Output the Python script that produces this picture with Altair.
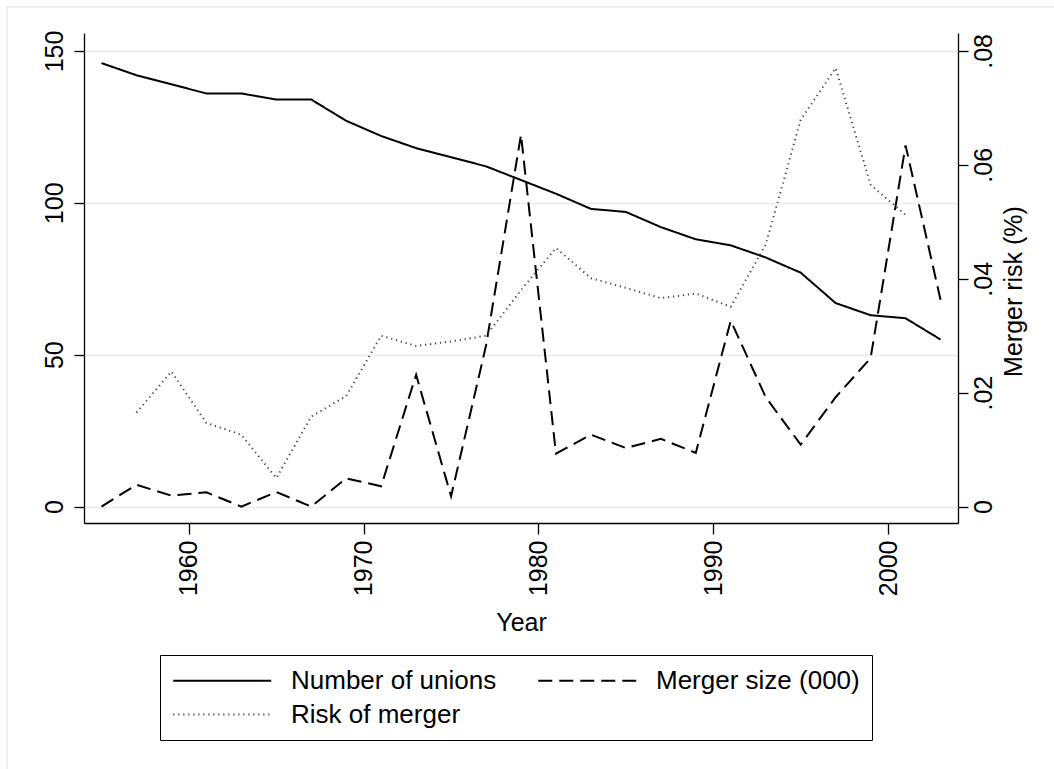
import altair as alt
import pandas as pd

# Union counts and mergers, odd years 1955-2003
years = list(range(1955, 2004, 2))
unions = [146, 142, 139, 136, 136, 134, 134, 127, 122, 118, 115, 112, 107.5,
          103, 98, 97, 92, 88, 86, 82, 77, 67, 63, 62, 55]
merger_size = [0, 7.2, 3.6, 4.7, 0, 4.8, 0, 9.3, 6.7, 43.4, 3.4, 53, 122.4,
               17.4, 23.7, 19.3, 22.3, 17.7, 61.2, 36, 20.4, 36, 48.9, 118.9, 68.1]

# Merger risk is only observed 1957-2001
risk_years = list(range(1957, 2002, 2))
merger_risk = [.0165, .0237, .0147, .0126, .005, .0158, .0194, .030, .0282,
               .029, .030, .038, .0454, .0401, .0384, .0366, .0374, .0351,
               .046, .0679, .077, .0565, .0512]

series_names = ["Number of unions", "Merger size (000)", "Risk of merger"]
series_color = ["black", "black", "#444444"]
series_dash = [[1, 0], [14, 7], [1.2, 3.8]]
series_width = [2, 2, 1.3]

FONT = "Liberation Sans, Arial, Helvetica, sans-serif"
GRID = "#e4eef1"

lines_df = pd.DataFrame({
    "year": years * 2,
    "series": [series_names[0]] * len(years) + [series_names[1]] * len(years),
    "value": unions + merger_size,
})
risk_df = pd.DataFrame({
    "year": risk_years,
    "series": [series_names[2]] * len(risk_years),
    "risk": merger_risk,
})

# long horizontal line sample; the path is scaled by sqrt(symbolSize)/2
legend = alt.Legend(
    title=None, orient="none", legendX=76, legendY=622, columns=2,
    direction="horizontal",
    symbolType="M-1,0H7", symbolSize=600,
    labelFont=FONT, labelFontSize=26, labelColor="black", labelOffset=92,
    labelLimit=600, columnPadding=37, rowPadding=7, padding=12,
    strokeColor="black",
)

style = dict(
    color=alt.Color("series:N", scale=alt.Scale(domain=series_names, range=series_color), legend=legend),
    strokeDash=alt.StrokeDash("series:N", scale=alt.Scale(domain=series_names, range=series_dash), legend=legend),
    strokeWidth=alt.StrokeWidth("series:N", scale=alt.Scale(domain=series_names, range=series_width), legend=legend),
)

x_enc = alt.X(
    "year:Q",
    scale=alt.Scale(domain=[1954, 2004], nice=False, zero=False),
    axis=alt.Axis(
        values=[1960, 1970, 1980, 1990, 2000], format="d",
        labelAngle=270, labelAlign="right", labelBaseline="middle",
        labelPadding=6, tickSize=11, labelFont=FONT, labelFontSize=25,
        labelColor="black", labelFlush=False, labelOverlap=False,
        title="Year", titleFont=FONT, titleFontSize=25, titleFontWeight="normal",
        titleColor="black", titleX=437, titleY=107, titleAlign="center",
        titleBaseline="alphabetic",
        grid=False, domainColor="black", domainWidth=1.3,
        tickColor="black", tickWidth=1.3,
    ),
)

left = alt.Chart(lines_df).mark_line().encode(
    x=x_enc,
    y=alt.Y(
        "value:Q",
        scale=alt.Scale(domain=[-5.4, 155.9], nice=False, zero=False),
        axis=alt.Axis(
            orient="left", values=[0, 50, 100, 150], title="",
            labelAngle=270, labelAlign="center", labelBaseline="alphabetic",
            labelPadding=12, tickSize=10, labelFont=FONT, labelFontSize=25,
            labelColor="black", labelFlush=False, labelOverlap=False,
            grid=True, gridColor=GRID, gridWidth=1.6,
            domainColor="black", domainWidth=1.3,
            tickColor="black", tickWidth=1.3,
        ),
    ),
    **style,
)

risk_top = 155.9 * 0.08 / 150
risk_bottom = -5.4 * 0.08 / 150

right = alt.Chart(risk_df).mark_line().encode(
    x=x_enc,
    y=alt.Y(
        "risk:Q",
        scale=alt.Scale(domain=[risk_bottom, risk_top], nice=False, zero=False),
        axis=alt.Axis(
            orient="right", values=[0, .02, .04, .06, .08],
            labelExpr="datum.value == 0 ? '0' : substring(format(datum.value, '.2f'), 1)",
            labelAngle=270, labelAlign="center", labelBaseline="top",
            labelPadding=3, tickSize=10, labelFont=FONT, labelFontSize=25,
            labelColor="black", labelFlush=False, labelOverlap=False,
            grid=False, domainColor="black", domainWidth=1.3,
            tickColor="black", tickWidth=1.3,
            title="Merger risk (%)", titleFont=FONT, titleFontSize=25,
            titleFontWeight="normal", titleColor="black", titleAngle=270,
            titleX=63, titleY=258, titleAlign="center", titleBaseline="alphabetic",
        ),
    ),
    **style,
)

# faint outer frame of the graph region
frame = alt.Chart(pd.DataFrame({"k": [0]})).mark_rect(
    fill="transparent", stroke="#e3ecee", strokeWidth=1.5
).encode(x=alt.value(-77), x2=alt.value(990), y=alt.value(-26), y2=alt.value(760))

chart = alt.layer(frame, left, right).resolve_scale(y="independent").properties(
    width=874,
    height=490,
    autosize=alt.AutoSizeParams(type="none"),
    padding={"left": 84, "top": 33, "right": 96, "bottom": 246},
    background="white",
).configure_view(strokeWidth=0)

chart.save("out.html", embed_options={"renderer": "svg", "actions": False})
